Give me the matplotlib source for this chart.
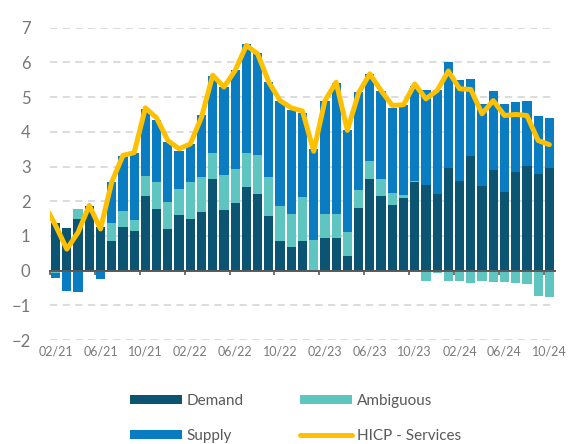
import numpy as np
import pandas as pd
import matplotlib
matplotlib.use("Agg")
import matplotlib.pyplot as plt

plt.rcParams['font.family'] = ['Lato', 'DejaVu Sans']

# monthly, 02/21 .. 10/24
months = pd.period_range('2021-02', '2024-10', freq='M').strftime('%m/%y').tolist()

demand = [1.38, 1.23, 1.48, 1.85, 1.25, 0.85, 1.25, 1.13, 2.14, 1.77,
          1.21, 1.59, 1.50, 1.70, 2.65, 1.75, 1.94, 2.40, 2.20, 1.57,
          0.85, 0.67, 0.86, -0.05, 0.95, 0.94, 0.41, 1.80, 2.65, 2.15,
          1.88, 2.08, 2.54, 2.47, 2.20, 2.96, 2.58, 3.30, 2.44, 2.89,
          2.26, 2.84, 3.01, 2.79, 2.95]
ambiguous = [-0.08, 0.0, 0.29, 0.0, 0.0, 0.52, 0.48, 0.34, 0.58, 0.78,
             0.78, 0.76, 1.04, 0.99, 0.73, 1.01, 1.00, 1.00, 1.13, 1.13,
             1.00, 0.97, 1.27, 0.87, 0.67, 0.69, 0.71, 0.51, 0.52, 0.49,
             0.36, 0.10, 0.05, -0.29, -0.07, -0.29, -0.31, -0.37, -0.29, -0.33,
             -0.34, -0.35, -0.40, -0.72, -0.77]
supply = [-0.12, -0.60, -0.63, 0.0, -0.24, 1.17, 1.56, 1.91, 1.94, 1.78,
          1.71, 1.11, 1.11, 1.78, 2.22, 2.53, 2.85, 3.12, 2.95, 2.73,
          3.03, 2.99, 2.41, 2.64, 3.26, 3.78, 2.94, 2.83, 2.50, 2.55,
          2.45, 2.58, 2.74, 2.74, 3.01, 3.06, 2.92, 2.23, 2.35, 2.30,
          2.55, 2.02, 1.87, 1.66, 1.44]
# line starts one month earlier (01/21), clipped at the left edge
hicp_services = [1.90, 1.30, 0.62, 1.10, 1.88, 1.20, 2.55, 3.32, 3.40, 4.69,
                 4.40, 3.75, 3.51, 3.65, 4.42, 5.63, 5.29, 5.77, 6.49, 6.25,
                 5.43, 4.90, 4.69, 4.60, 3.44, 4.90, 5.43, 4.04, 5.12, 5.67,
                 5.19, 4.76, 4.78, 5.38, 4.95, 5.19, 5.75, 5.24, 5.22, 4.52,
                 4.90, 4.47, 4.50, 4.47, 3.75, 3.63]

x = np.arange(len(months))
x_line = np.arange(-1, len(months))

fig = plt.figure(figsize=(5.76, 4.44), dpi=100)
ax = fig.add_axes([0.0868, 0.2342, 0.8767, 0.7034])

pos_base = np.zeros(len(x))
neg_base = np.zeros(len(x))
series = [('Demand', demand, '#0b5472'),
          ('Ambiguous', ambiguous, '#5fc5c1'),
          ('Supply', supply, '#0a7cc1')]
handles = {}
for name, vals, col in series:
    v = np.array(vals)
    bottom = np.where(v >= 0, pos_base, neg_base)
    b = ax.bar(x, v, width=0.82, bottom=bottom, color=col, label=name, zorder=2)
    handles[name] = b
    pos_base = pos_base + np.where(v >= 0, v, 0)
    neg_base = neg_base + np.where(v < 0, v, 0)

ln, = ax.plot(x_line, hicp_services, color='#ffc000', lw=3.6,
              solid_joinstyle='round', solid_capstyle='round', zorder=3,
              label='HICP - Services')

ax.set_xlim(-0.5, 44.5)
ax.set_ylim(-2, 7)
ax.set_yticks(range(-2, 8))
ax.yaxis.grid(True, color='#d9d9d9', lw=1.3, linestyle=(0, (4, 3)), zorder=0)
ax.set_axisbelow(True)

for s in ['top', 'right', 'left']:
    ax.spines[s].set_visible(False)
ax.spines['bottom'].set_position(('data', 0))
ax.spines['bottom'].set_color('#595959')
ax.spines['bottom'].set_linewidth(1.4)
ax.spines['bottom'].set_zorder(4)

tick_pos = x[::4]
ax.set_xticks(tick_pos - 0.5)
ax.set_xticklabels([])
ax.tick_params(axis='x', direction='out', length=3, width=1.2, color='#595959')
ax.tick_params(axis='y', length=0, pad=14, labelsize=12, labelcolor='#777777')

sec = ax.secondary_xaxis('bottom')
sec.set_xticks(tick_pos)
sec.set_xticklabels([months[i] for i in tick_pos])
sec.tick_params(length=0, pad=4, labelsize=9, labelcolor='#7a7a7a')
sec.spines['bottom'].set_visible(False)

fig.legend([handles['Demand'], handles['Supply'], handles['Ambiguous'], ln],
           ['Demand', 'Supply', 'Ambiguous', 'HICP - Services'],
           ncol=2, loc='upper center', bbox_to_anchor=(0.513, 0.143),
           frameon=False, fontsize=11, labelcolor='#595959',
           handlelength=3.4, handleheight=0.55, handletextpad=0.33,
           columnspacing=3.7, labelspacing=1.33)

fig.savefig('out.png', dpi=100)
